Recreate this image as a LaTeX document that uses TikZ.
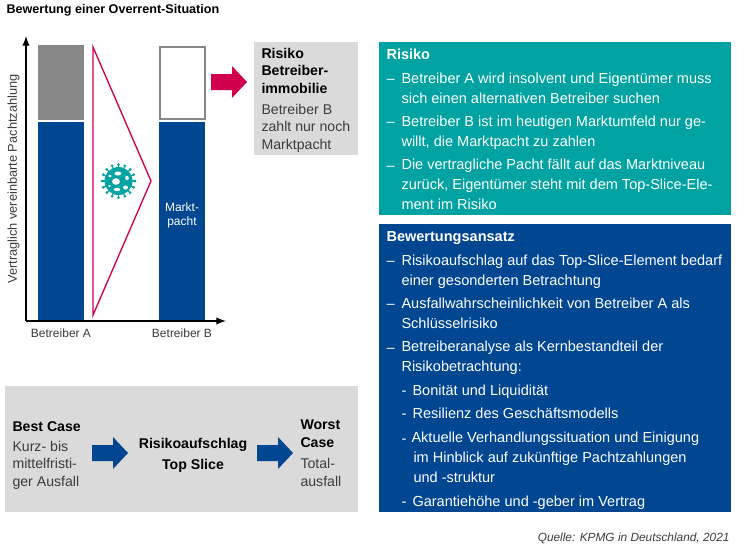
\documentclass[tikz,border=0pt]{standalone}
\usepackage{fontspec}
\setmainfont{Liberation Sans}
\usetikzlibrary{arrows}
\definecolor{kpmgblue}{RGB}{0,70,145}
\definecolor{kpmgteal}{RGB}{0,163,161}
\definecolor{kpmgred}{RGB}{208,0,79}
\definecolor{kpmggrey}{RGB}{135,135,135}
\definecolor{panelgrey}{RGB}{218,218,218}
\definecolor{bodygrey}{RGB}{60,60,60}
\tikzset{every picture/.style={line width=0.75pt}}
\tikzset{
bodytext/.style={anchor=base west,inner sep=0pt,align=left,text=white,font=\fontsize{10.9}{14.8}\selectfont},
headtext/.style={anchor=base west,inner sep=0pt,text=white,font=\fontsize{10.9}{14.8}\selectfont\bfseries},
paneltext/.style={anchor=base west,inner sep=0pt,align=left,text=bodygrey,font=\fontsize{10.6}{12.8}\selectfont},
panelhead/.style={anchor=base west,inner sep=0pt,align=left,text=black,font=\fontsize{10.6}{12.8}\selectfont\bfseries},
smalltext/.style={anchor=base,inner sep=0pt,text=bodygrey,font=\fontsize{9}{10.5}\selectfont},
axisline/.style={line width=1.5pt,-latex}
}

\begin{document}
\begin{tikzpicture}[x=0.75pt,y=0.75pt,yscale=-1]
\useasboundingbox (0,0) rectangle (752,554);

%Shape: Rectangle panels
\fill [panelgrey] (254,42) rectangle (358,155);
\fill [panelgrey] (5,386) rectangle (358,512);
\fill [kpmgteal] (379,42) rectangle (731,215);
\fill [kpmgblue] (379,224) rectangle (731,512);

%Shape: Rectangle bars
\fill [kpmggrey] (38,45) rectangle (84,120);
\fill [kpmgblue] (38,121.5) rectangle (84,320);
\draw [kpmggrey,line width=1.5pt] (160,47) rectangle (204.5,119);
\fill [kpmgblue] (159,121.5) rectangle (205,320);

%Straight Lines
\coordinate (origin) at (26,321);
\coordinate (ytip) at (26,36);
\coordinate (xtip) at (226,321);
\draw [axisline] (origin) -- (ytip);
\draw [axisline] (origin) -- (xtip);

%Shape: Triangle
\draw [kpmgred,line width=1pt] (93,47) -- (151,181) -- (93,315) -- cycle;

%Shape: Virus
\foreach \a in {0,22.5,...,359} {
\draw [kpmgteal,line width=0.8pt] (118.5,181) -- ++(\a:16);
\fill [kpmgteal] (118.5,181) ++(\a:16.5) circle (1.5);
}
\fill [kpmgteal] (118.5,181) circle (14);
\fill [white] (118,173.5) ellipse (3.5 and 2);
\fill [white] (110,176) ellipse (1.8 and 1.3);
\fill [white] (116,181.5) ellipse (4 and 3.3);
\fill [white] (127,178) ellipse (1.8 and 2.2);
\fill [white] (125.5,187.5) ellipse (2.5 and 2);
\fill [white] (117,189.5) ellipse (3.3 and 1.7);
\fill [white] (109.5,186) ellipse (1.5 and 1.2);

%Shape: Right Arrow
\fill [kpmgred] (211,74) -- (232,74) -- (232,66) -- (247,82) -- (232,98) -- (232,90) -- (211,90) -- cycle;
\fill [kpmgblue] (92,445) -- (113,445) -- (113,437) -- (128,453) -- (113,469) -- (113,461) -- (92,461) -- cycle;
\fill [kpmgblue] (257,445) -- (278,445) -- (278,437) -- (293,453) -- (278,469) -- (278,461) -- (257,461) -- cycle;

% Text Node
\draw (6,13) node (title) [anchor=base west,inner sep=0pt,font=\fontsize{9.45}{10}\selectfont\bfseries] {Bewertung einer Overrent-Situation};
\draw (13.5,179) node (axislabel) [rotate=90,inner sep=0pt,text=bodygrey,font=\fontsize{9.6}{10}\selectfont] {Vertraglich vereinbarte Pachtzahlung};
\draw (61,337) node (labelA) [smalltext] {Betreiber A};
\draw (182,337) node (labelB) [smalltext] {Betreiber B};
\draw (182,225) node (markt) [smalltext,text=white,align=center] {Markt-\\pacht};

\draw (261,93) node (riskhead) [panelhead] {Risiko\\Betreiber-\\immobilie};
\draw (261,149) node (riskbody) [paneltext] {Betreiber B\\zahlt nur noch\\Marktpacht};

\draw (12,431) node (besthead) [panelhead] {Best Case};
\draw (12,486) node (bestbody) [paneltext] {Kurz- bis\\mittelfristi-\\ger Ausfall};
\draw (193,448) node (topsliceA) [panelhead,anchor=base] {Risikoaufschlag};
\draw (193,469) node (topsliceB) [panelhead,anchor=base] {Top Slice};
\draw (300,447) node (worsthead) [panelhead] {Worst\\Case};
\draw (300,486) node (worstbody) [paneltext] {Total-\\ausfall};

\draw (386,59) node (riskotitle) [headtext] {Risiko};
\draw (401,103) node (riskoA) [bodytext] {Betreiber A wird insolvent und Eigentümer muss\\sich einen alternativen Betreiber suchen};
\draw (401,146) node (riskoB) [bodytext] {Betreiber B ist im heutigen Marktumfeld nur ge-\\willt, die Marktpacht zu zahlen};
\draw (401,209) node (riskoC) [bodytext] {Die vertragliche Pacht fällt auf das Marktniveau\\zurück, Eigentümer steht mit dem Top-Slice-Ele-\\ment im Risiko};

\draw (386,241) node (ansatztitle) [headtext] {Bewertungsansatz};
\draw (401,285) node (ansatzA) [bodytext] {Risikoaufschlag auf das Top-Slice-Element bedarf\\einer gesonderten Betrachtung};
\draw (401,328) node (ansatzB) [bodytext] {Ausfallwahrscheinlichkeit von Betreiber A als\\Schlüsselrisiko};
\draw (401,371) node (ansatzC) [bodytext] {Betreiberanalyse als Kernbestandteil der\\Risikobetrachtung:};
\draw (412,395) node (subA) [bodytext] {Bonität und Liquidität};
\draw (412,418) node (subB) [bodytext] {Resilienz des Geschäftsmodells};
\draw (411,482) node (subC) [bodytext] {Aktuelle Verhandlungssituation und Einigung\\\hspace{1.5pt}im Hinblick auf zukünftige Pachtzahlungen\\\hspace{1.5pt}und -struktur};
\draw (412,506) node (subD) [bodytext] {Garantiehöhe und -geber im Vertrag};

\foreach \y in {83,126,170,265,308,352} {
\draw (386,\y) node (dash\y) [bodytext] {–};
}
\foreach \y in {395,418,443,506} {
\draw (401,\y) node (dash\y) [bodytext] {-};
}

\draw (730,541) node (source) [anchor=base east,inner sep=0pt,text=bodygrey,font=\fontsize{8.9}{10}\selectfont\itshape] {Quelle: KPMG in Deutschland, 2021};

\end{tikzpicture}
\end{document}
